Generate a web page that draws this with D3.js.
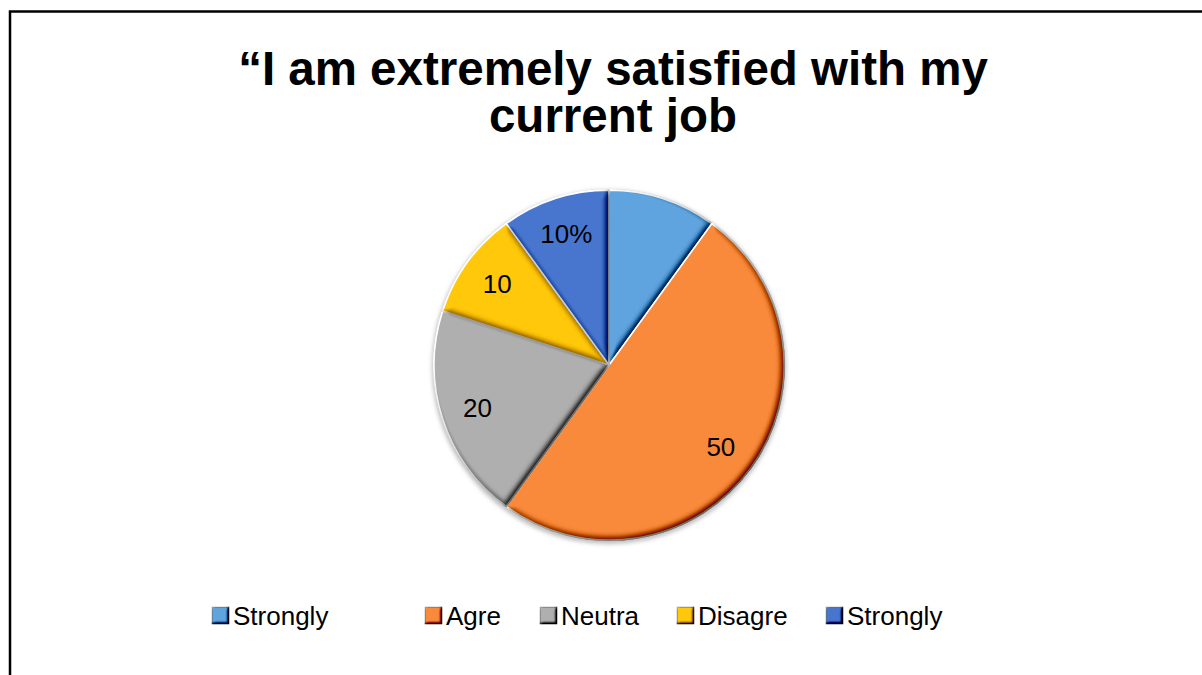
<!DOCTYPE html>
<html>
<head>
<meta charset="utf-8">
<script src="https://cdn.jsdelivr.net/npm/d3@7"></script>
<style>
  html, body { margin: 0; padding: 0; background: #fff; }
  svg { display: block; }
  text { font-family: "Liberation Sans", Arial, sans-serif; }
</style>
</head>
<body>
<svg id="chart" width="1202" height="675"></svg>
<script>
// Survey responses, clockwise from 12 o'clock
const categories = ["Strongly Agree", "Agree", "Neutral", "Disagree", "Strongly Disagree"];
const values = [10, 50, 20, 10, 10];
const sliceLabels = ["", "50", "20", "10", "10%"];
const legendLabels = ["Strongly", "Agre", "Neutra", "Disagre", "Strongly"];
const colors = ["#5fa3df", "#f98a3b", "#afafaf", "#ffc80a", "#4876cf"];
const titleLines = ["\u201CI am extremely satisfied with my", "current job"];

// Layout
const W = 1202, H = 675;
const cx = 609, cy = 365, radius = 175;
const legendX = [212, 425, 540, 677, 826];
const legendY = 607, legendBox = 17;

const svg = d3.select("#chart");
const defs = svg.append("defs");

// Bevel effect: light the blurred alpha from top-left and add to the fill
function bevel(id, blur, scale) {
  const f = defs.append("filter").attr("id", id)
    .attr("x", "-5%").attr("y", "-5%").attr("width", "110%").attr("height", "110%")
    .attr("color-interpolation-filters", "sRGB");
  f.append("feGaussianBlur").attr("in", "SourceAlpha").attr("stdDeviation", blur).attr("result", "b");
  const dl = f.append("feDiffuseLighting").attr("in", "b").attr("surfaceScale", scale)
    .attr("diffuseConstant", 1 / Math.sin(Math.PI / 3)).attr("lighting-color", "#fff").attr("result", "d");
  dl.append("feDistantLight").attr("azimuth", 225).attr("elevation", 60);
  f.append("feComposite").attr("in", "SourceGraphic").attr("in2", "d")
    .attr("operator", "arithmetic").attr("k1", 0).attr("k2", 1).attr("k3", 0.8).attr("k4", -0.8).attr("result", "lit");
  f.append("feComposite").attr("in", "lit").attr("in2", "SourceAlpha").attr("operator", "in");
}
bevel("bevel", 3.5, 5);
bevel("bevelSmall", 1.8, 4);

const shadow = defs.append("filter").attr("id", "shadow")
  .attr("x", "-10%").attr("y", "-10%").attr("width", "120%").attr("height", "120%");
shadow.append("feGaussianBlur").attr("stdDeviation", 2);

// Frame
svg.append("rect")
  .attr("x", 10).attr("y", 11.5).attr("width", W).attr("height", H)
  .attr("fill", "none").attr("stroke", "#000").attr("stroke-width", 2.5);

// Title
svg.append("text")
  .attr("text-anchor", "middle")
  .attr("font-size", 47.5).attr("font-weight", "bold").attr("fill", "#000")
  .selectAll("tspan").data(titleLines).join("tspan")
  .attr("x", 613).attr("y", (d, i) => 85 + i * 47)
  .text(d => d);

// Pie
const pie = d3.pie().sort(null).value(d => d.value);
const arcs = pie(categories.map((c, i) => ({ category: c, value: values[i], label: sliceLabels[i], color: colors[i] })));
const arc = d3.arc().innerRadius(0).outerRadius(radius);
const labelArc = d3.arc().innerRadius(radius * 0.79).outerRadius(radius * 0.79);

const g = svg.append("g").attr("transform", `translate(${cx},${cy})`);

// soft rim and shadow under the pie
g.append("circle").attr("cy", 2).attr("r", radius + 2)
  .attr("fill", "#bdbdbd").attr("filter", "url(#shadow)");
g.append("circle").attr("r", radius + 1)
  .attr("fill", "#e2e2e2");

g.selectAll("path.slice").data(arcs).join("path")
  .attr("class", "slice")
  .attr("d", arc)
  .attr("fill", d => d.data.color)
  .attr("stroke", "#fff").attr("stroke-width", 1.8)
  .attr("filter", "url(#bevel)");

g.selectAll("text.value").data(arcs.filter(d => d.data.label)).join("text")
  .attr("class", "value")
  .attr("transform", d => `translate(${labelArc.centroid(d)})`)
  .attr("text-anchor", "middle").attr("dy", "0.36em")
  .attr("font-size", 26).attr("fill", "#000")
  .text(d => d.data.label);

// Legend
const legend = svg.append("g").selectAll("g").data(legendLabels).join("g")
  .attr("transform", (d, i) => `translate(${legendX[i]},${legendY})`);
legend.append("rect")
  .attr("width", legendBox).attr("height", legendBox)
  .attr("fill", (d, i) => colors[i])
  .attr("stroke", "#9a9a9a").attr("stroke-width", 1)
  .attr("filter", "url(#bevelSmall)");
legend.append("text")
  .attr("x", legendBox + 4).attr("y", legendBox / 2).attr("dy", "0.36em")
  .attr("font-size", 26).attr("fill", "#000")
  .text(d => d);
</script>
</body>
</html>
